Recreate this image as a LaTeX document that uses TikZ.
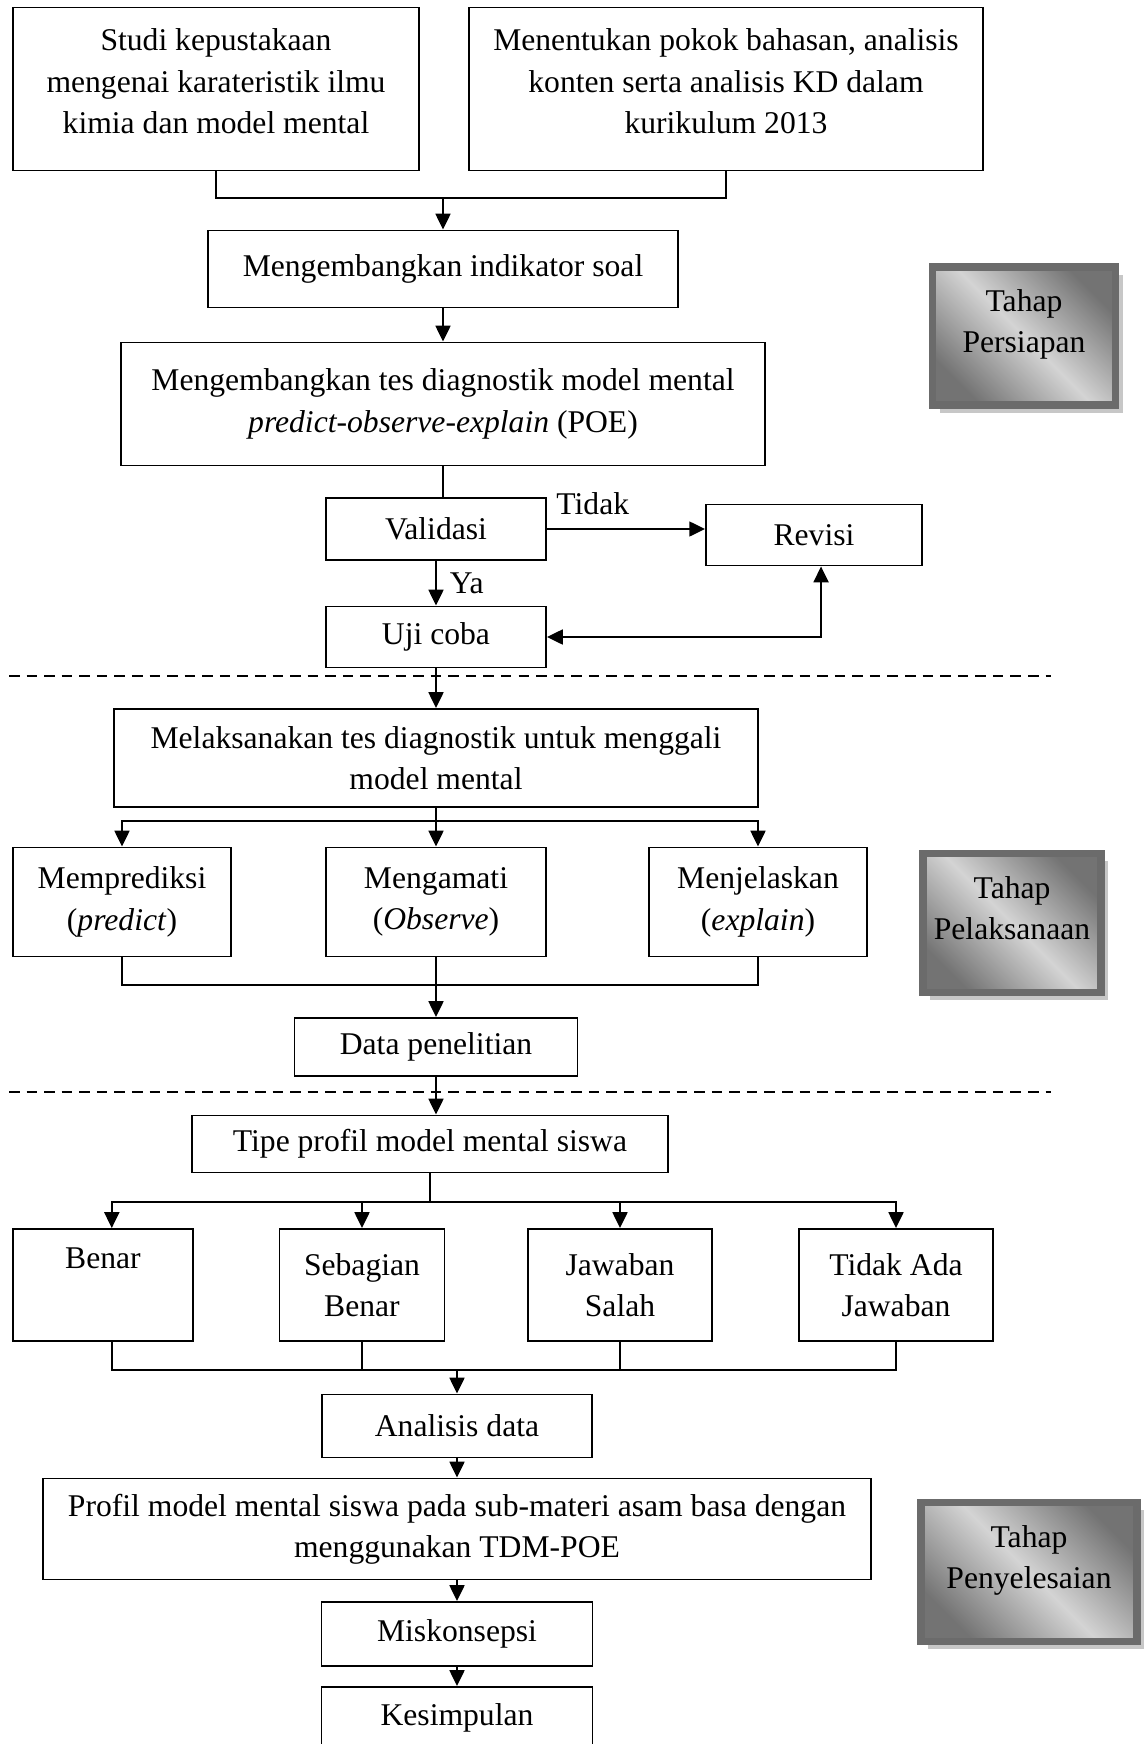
\documentclass[tikz,border=0pt]{standalone}
\usepackage{fontspec}
\setmainfont{Liberation Serif}
\usetikzlibrary{arrows.meta, shadows}

\tikzset{
  kotak/.style={draw, line width=1.1pt, align=center, inner sep=2pt},
  tahap/.style={draw=black!58, line width=4.5pt, align=center, text depth=17pt,
    top color=black!55, bottom color=black!55, middle color=black!17, shading angle=-45,
    drop shadow={shadow xshift=4pt, shadow yshift=-4.5pt, fill=black!22, opacity=1}},
  garis/.style={line width=1.1pt},
  batas/.style={line width=0.8pt, dash pattern=on 6pt off 4pt}
}

\begin{document}
\begin{tikzpicture}[x=0.02cm, y=-0.02cm, font=\fontsize{18}{23.5}\selectfont,
  >={Triangle[length=9pt,width=8.5pt]}]
\useasboundingbox (0,0) rectangle (1147,1744);

% tahap persiapan
\node[kotak, text depth=9pt, minimum width=8.12cm, minimum height=3.26cm] (studi) at (216,89) {Studi kepustakaan\\mengenai karateristik ilmu\\kimia dan model mental};
\node[kotak, text depth=9pt, minimum width=10.3cm, minimum height=3.26cm] (pokok) at (726,89) {Menentukan pokok bahasan, analisis\\konten serta analisis KD dalam\\kurikulum 2013};
\node[kotak, minimum width=9.42cm, minimum height=1.54cm] (indikator) at (443,269) {Mengembangkan indikator soal};
\node[kotak, minimum width=12.88cm, minimum height=2.46cm] (tesdiag) at (443,404) {Mengembangkan tes diagnostik model mental\\\textit{predict-observe-explain} (POE)};
\node[kotak, minimum width=4.4cm, minimum height=1.24cm] (validasi) at (436,529) {Validasi};
\node[kotak, minimum width=4.32cm, minimum height=1.22cm] (revisi) at (814,535) {Revisi};
\node[kotak, minimum width=4.4cm, minimum height=1.22cm] (ujicoba) at (436,637) {Uji coba};

\coordinate (gabung1) at (443,198);
\draw[garis] (studi.south) |- (gabung1) -| (pokok.south);
\draw[garis,->] (gabung1) -- (indikator.north);
\draw[garis,->] (indikator.south) -- (tesdiag.north);
\draw[garis] (tesdiag.south) -- (tesdiag.south |- validasi.north);
\draw[garis,->] (validasi.east) -- (validasi.east -| revisi.west) node[pos=0.29, above, yshift=4pt] (tidak) {Tidak};
\draw[garis,->] (validasi.south) -- (ujicoba.north) node[midway, right, xshift=4pt] (ya) {Ya};
\draw[garis,<->] (ujicoba.east) -| ([xshift=4pt]revisi.south);

\draw[batas] (9,676) -- (1051,676);

% tahap pelaksanaan
\node[kotak, minimum width=12.9cm, minimum height=1.96cm] (melaksana) at (436,758) {Melaksanakan tes diagnostik untuk menggali\\model mental};
\node[kotak, minimum width=4.36cm, minimum height=2.18cm] (prediksi) at (122,902) {Memprediksi\\(\textit{predict})};
\node[kotak, minimum width=4.4cm, minimum height=2.18cm] (amati) at (436,902) {Mengamati\\(\textit{Observe})};
\node[kotak, minimum width=4.36cm, minimum height=2.18cm] (jelaskan) at (758,902) {Menjelaskan\\(\textit{explain})};
\node[kotak, minimum width=5.66cm, minimum height=1.16cm] (data) at (436,1047) {Data penelitian};

\draw[garis,->] (ujicoba.south) -- (melaksana.north);
\coordinate (cabang1) at (436,821);
\draw[garis] (melaksana.south) -- (cabang1);
\draw[garis,->] (cabang1) -| (prediksi.north);
\draw[garis,->] (cabang1) -| (jelaskan.north);
\draw[garis,->] (cabang1) -- (amati.north);
\coordinate (gabung2) at (436,985);
\draw[garis] (prediksi.south) |- (gabung2) -| (jelaskan.south);
\draw[garis,->] (amati.south) -- (data.north);

\draw[batas] (9,1092) -- (1051,1092);

% tahap penyelesaian
\node[kotak, minimum width=9.54cm, minimum height=1.14cm] (tipe) at (430,1144) {Tipe profil model mental siswa};
\node[kotak, minimum width=3.6cm, minimum height=2.24cm] (benar) at (103,1285) {Benar\\\strut};
\node[kotak, minimum width=3.3cm, minimum height=2.24cm] (sebagian) at (362,1285) {Sebagian\\Benar};
\node[kotak, minimum width=3.68cm, minimum height=2.24cm] (salah) at (620,1285) {Jawaban\\Salah};
\node[kotak, minimum width=3.88cm, minimum height=2.24cm] (tidakada) at (896,1285) {Tidak Ada\\Jawaban};
\node[kotak, minimum width=5.4cm, minimum height=1.26cm] (analisis) at (457,1426) {Analisis data};
\node[kotak, minimum width=16.58cm, minimum height=2.02cm] (profil) at (457,1529) {Profil model mental siswa pada sub-materi asam basa dengan\\menggunakan TDM-POE};
\node[kotak, minimum width=5.42cm, minimum height=1.28cm] (miskonsepsi) at (457,1634) {Miskonsepsi};
\node[kotak, minimum width=5.42cm, minimum height=1.24cm] (kesimpulan) at (457,1718) {Kesimpulan};

\draw[garis,->] (data.south) -- (data.south |- tipe.north);
\coordinate (cabang2) at (430,1202);
\draw[garis] (tipe.south) -- (cabang2);
\draw[garis,->] (cabang2) -| ([xshift=5pt]benar.north);
\draw[garis,->] (cabang2) -| (sebagian.north);
\draw[garis,->] (cabang2) -| (salah.north);
\draw[garis,->] (cabang2) -| (tidakada.north);
\coordinate (gabung3) at (457,1370);
\draw[garis] ([xshift=5pt]benar.south) |- (gabung3) -| (tidakada.south);
\draw[garis] (sebagian.south) -- (sebagian.south |- gabung3);
\draw[garis] (salah.south) -- (salah.south |- gabung3);
\draw[garis,->] (gabung3) -- (analisis.north);
\draw[garis,->] (analisis.south) -- (profil.north);
\draw[garis,->] (profil.south) -- (miskonsepsi.north);
\draw[garis,->] (miskonsepsi.south) -- (kesimpulan.north);

% label tahap
\node[tahap, minimum width=3.66cm, minimum height=2.76cm] (persiapan) at (1024,336) {Tahap\\Persiapan};
\node[tahap, minimum width=3.56cm, minimum height=2.78cm] (pelaksanaan) at (1012,923) {Tahap\\Pelaksanaan};
\node[tahap, minimum width=4.32cm, minimum height=2.78cm] (penyelesaian) at (1029,1572) {Tahap\\Penyelesaian};
\end{tikzpicture}
\end{document}
